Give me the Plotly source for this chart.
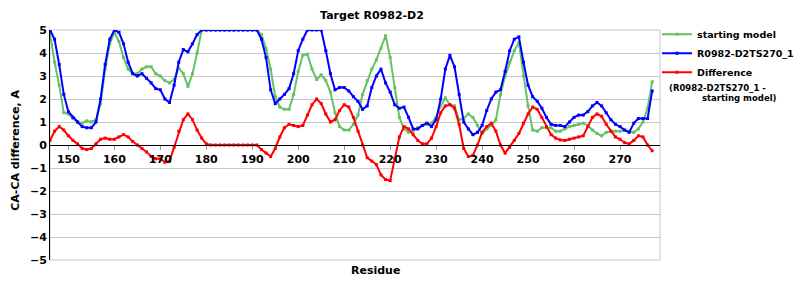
import plotly.graph_objects as go

residues = list(range(146, 278))

starting_model = [
    4.85, 3.6, 2.6, 1.4, 1.35, 1.15, 1.0, 0.95, 1.05, 1.0,
    1.1, 1.8, 3.3, 4.4, 4.9, 4.5, 3.8, 3.3, 3.1, 3.1,
    3.3, 3.4, 3.4, 3.1, 3.0, 2.8, 2.7, 2.85, 3.35, 3.1,
    2.55, 3.1, 4.0, 5, 5, 5, 5, 5, 5, 5,
    5, 5, 5, 5, 5, 5, 4.8, 4.2, 3.3, 2.1,
    1.65, 1.55, 1.55, 2.2, 3.2, 3.9, 3.95, 3.3, 2.85, 3.05,
    2.8, 2.3, 1.4, 0.8, 0.65, 0.65, 0.9, 1.3, 2.2, 2.8,
    3.3, 3.7, 4.2, 4.75, 3.8, 2.5, 1.2, 0.7, 0.55, 0.6,
    0.75, 0.85, 0.9, 0.95, 1.2, 1.7, 2.05, 1.75, 1.7, 1.1,
    1.15, 1.35, 1.2, 0.85, 0.5, 0.7, 0.85, 1.1, 2.2, 3.0,
    3.6, 4.1, 4.45, 3.0, 1.7, 0.65, 0.6, 0.75, 0.75, 0.75,
    0.6, 0.6, 0.7, 0.8, 0.85, 0.9, 0.95, 0.85, 0.65, 0.5,
    0.4, 0.55, 0.6, 0.6, 0.6, 0.65, 0.6, 0.55, 0.7, 1.0,
    1.6, 2.75,
]

model_ts270 = [
    5, 4.6, 3.5, 2.2, 1.45, 1.2, 1.0, 0.8, 0.75, 0.75,
    1.0, 2.0, 3.5, 4.6, 5.0, 4.9, 4.4, 3.6, 3.1, 3.0,
    3.1, 2.9, 2.7, 2.45, 2.4, 2.0, 1.85, 2.6, 3.6, 4.15,
    4.05, 4.4, 4.8, 5, 5, 5, 5, 5, 5, 5,
    5, 5, 5, 5, 5, 5, 4.6, 3.8, 2.4, 1.8,
    2.0, 2.2, 2.45, 3.1, 4.1, 4.6, 5, 5, 5, 5,
    4.1, 3.1, 2.4, 2.5, 2.5, 2.35, 2.1, 1.9, 1.55, 1.7,
    2.5, 3.0, 3.3, 2.7, 2.3, 1.75, 1.6, 1.65, 1.2, 0.7,
    0.7, 0.85, 0.95, 0.8, 1.1, 2.0, 3.3, 3.9, 3.4, 2.2,
    1.0, 0.7, 0.45, 0.55, 0.85, 1.5, 2.0, 2.3, 2.4, 3.2,
    4.1, 4.6, 4.7, 3.6, 2.6, 2.1, 1.9, 1.6, 1.2, 0.9,
    0.85, 0.85, 0.8, 1.0, 1.2, 1.3, 1.3, 1.45, 1.7, 1.85,
    1.7, 1.4, 1.1, 0.9, 0.8, 0.65, 0.55, 0.95, 1.15, 1.15,
    1.15, 2.35,
]

difference = [
    0.2, 0.6, 0.8, 0.65, 0.4, 0.2, 0.05, -0.15, -0.2, -0.15,
    0.05, 0.25, 0.3, 0.25, 0.25, 0.35, 0.45, 0.35, 0.15, 0.0,
    -0.15, -0.3, -0.5, -0.6, -0.6, -0.75, -0.7, -0.1, 0.6, 1.1,
    1.35, 1.1, 0.65, 0.3, 0.05, 0, 0, 0, 0, 0,
    0, 0, 0, 0, 0, 0, -0.2, -0.35, -0.5, -0.15,
    0.35, 0.75, 0.9, 0.85, 0.8, 0.85, 1.3, 1.75, 2.0, 1.8,
    1.35, 1.0, 1.1, 1.5, 1.75, 1.65, 1.2, 0.6, 0.0, -0.55,
    -0.7, -0.85, -1.3, -1.5, -1.55, -0.6, 0.35, 0.8, 0.7, 0.45,
    0.2, 0.05, 0.05, 0.3, 0.8, 1.4, 1.7, 1.75, 1.6, 0.9,
    -0.15, -0.5, -0.45, 0.0, 0.55, 0.8, 0.95, 0.6, 0.0, -0.35,
    -0.1, 0.2, 0.5, 0.95, 1.35, 1.65, 1.55, 1.2, 0.8, 0.45,
    0.3, 0.22, 0.2, 0.25, 0.3, 0.35, 0.4, 0.8, 1.2, 1.35,
    1.25, 0.9, 0.6, 0.35, 0.25, 0.1, 0.05, 0.2, 0.4, 0.35,
    0.0, -0.25,
]

x_ticks = [150, 160, 170, 180, 190, 200, 210, 220, 230, 240, 250, 260, 270]
y_ticks = [-5, -4, -3, -2, -1, 0, 1, 2, 3, 4, 5]

FONT = "DejaVu Sans"
GREEN = "#66c166"
BLUE = "#0000ff"
RED = "#ff0000"

fig = go.Figure()
series = [
    ("<b>starting model</b>", starting_model, GREEN),
    ("<b>R0982-D2TS270_1</b>", model_ts270, BLUE),
    ("<b>Difference</b>", difference, RED),
]
for name, vals, col in series:
    fig.add_trace(go.Scatter(
        x=residues, y=vals, name=name, mode="lines+markers",
        line=dict(color=col, width=2),
        marker=dict(color=col, size=3, symbol="square"),
    ))

fig.update_layout(
    width=800, height=300,
    margin=dict(l=50, r=140, t=30, b=40, autoexpand=False),
    plot_bgcolor="white", paper_bgcolor="white",
    font=dict(family=FONT, size=11, color="black"),
    title=dict(text="<b>Target R0982-D2</b>", x=(372 - 50) / 610, xref="paper", xanchor="center",
               y=0.95, yref="container", yanchor="middle",
               font=dict(family=FONT, size=11, color="black")),
    xaxis=dict(range=[146, 278.7], tickvals=x_ticks, ticks="outside", ticklen=4,
               tickcolor="#999999", showline=True, linecolor="black", linewidth=1,
               anchor="free", position=0.5, showgrid=False, zeroline=False,
               tickfont=dict(family=FONT, size=11, color="black", weight="bold")),
    yaxis=dict(range=[-5, 5], tickvals=y_ticks, gridcolor="#c8c8c8", gridwidth=1,
               showline=True, linecolor="black", linewidth=1, zeroline=False,
               ticks="", tickfont=dict(family=FONT, size=11, color="black", weight="bold")),
    legend=dict(x=(657 - 50) / 610, xanchor="left", y=1.045, yanchor="top", itemwidth=30,
                tracegroupgap=0, bgcolor="rgba(0,0,0,0)",
                font=dict(family=FONT, size=9.5, color="black")),
    shapes=[dict(type="rect", xref="paper", yref="paper", x0=0, x1=1, y0=0, y1=1,
                 line=dict(color="#c8c8c8", width=1), layer="below")],
    annotations=[
        dict(text="<b>Residue</b>", xref="paper", yref="paper", x=0.533, y=-0.045,
             xanchor="center", yanchor="middle", showarrow=False,
             font=dict(family=FONT, size=11, color="black")),
        dict(text="<b>CA-CA difference, A</b>", xref="paper", yref="paper", x=-0.057,
             y=0.476, xanchor="center", yanchor="middle", textangle=-90, showarrow=False,
             font=dict(family=FONT, size=11, color="black")),
        dict(text="<b>(R0982-D2TS270_1 -</b>", xref="paper", yref="paper",
             x=(669 - 50) / 610, y=(260 - 87.5) / 230, xanchor="left", yanchor="middle",
             showarrow=False, xshift=-2,
             font=dict(family=FONT, size=8.5, color="black")),
        dict(text="<b>starting model)</b>", xref="paper", yref="paper",
             x=(702 - 50) / 610, y=(260 - 98.5) / 230, xanchor="left", yanchor="middle",
             showarrow=False, xshift=-2,
             font=dict(family=FONT, size=8.5, color="black")),
    ],
)

fig.write_html("out.html")
